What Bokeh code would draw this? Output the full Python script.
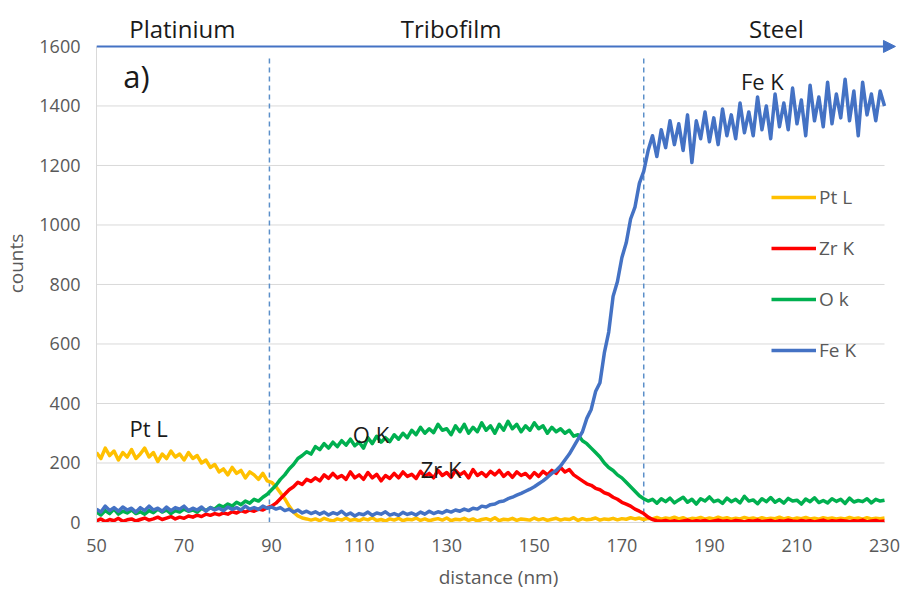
from bokeh.plotting import figure
from bokeh.models import (Range1d, FixedTicker, Label, Arrow, NormalHead, Legend, LegendItem,
                          ColumnDataSource)
from bokeh.embed import file_html
from bokeh.resources import INLINE

# ---------------- data ----------------
distance = list(range(50, 231))  # nm, 1 nm steps

pt_l = [235, 215, 250, 225, 240, 210, 235, 220, 245, 215,
        230, 250, 220, 235, 205, 230, 215, 240, 220, 230,
        210, 235, 215, 225, 200, 210, 185, 195, 170, 180,
        160, 185, 165, 175, 150, 170, 160, 145, 165, 140,
        135, 120, 100, 80, 55, 35, 22, 15, 12, 8,
        12, 6, 14, 9, 5, 12, 8, 15, 7, 11,
        6, 13, 9, 16, 7, 10, 5, 12, 8, 14,
        6, 11, 9, 15, 7, 12, 6, 10, 13, 8,
        15, 6, 11, 9, 14, 7, 12, 5, 10, 13,
        8, 16, 6, 11, 9, 14, 7, 12, 10, 8,
        15, 9, 13, 7, 11, 14, 8, 12, 10, 16,
        7, 13, 9, 11, 15, 8, 12, 10, 14, 9,
        13, 11, 16, 12, 15, 10, 14, 12, 17, 11,
        15, 13, 18, 12, 16, 10, 14, 13, 17, 11,
        15, 12, 18, 13, 16, 11, 14, 12, 17, 13,
        15, 11, 16, 12, 14, 13, 18, 12, 16, 11,
        15, 13, 17, 12, 14, 11, 16, 13, 15, 12,
        14, 12, 17, 13, 15, 11, 16, 12, 14, 13,
        15]

zr_k = [5, 12, 3, 10, 6, 14, 4, 9, 12, 5,
        10, 15, 8, 12, 18, 10, 15, 20, 12, 18,
        14, 22, 18, 25, 20, 28, 24, 30, 26, 32,
        28, 36, 32, 40, 35, 42, 38, 45, 42, 50,
        55, 65, 80, 95, 110, 120, 135, 128, 145, 138,
        150, 140, 160, 148, 165, 150, 158, 145, 170, 150,
        160, 145, 168, 150, 162, 140, 158, 148, 165, 150,
        170, 155, 162, 148, 172, 155, 165, 150, 175, 158,
        168, 152, 175, 160, 170, 150, 178, 158, 168, 155,
        172, 160, 175, 155, 168, 152, 170, 158, 165, 150,
        168, 155, 172, 160, 175, 165, 185, 170, 178, 160,
        150, 140, 130, 125, 115, 110, 100, 95, 85, 78,
        68, 62, 55, 45, 38, 30, 18, 10, 6, 4,
        7, 3, 6, 2, 5, 8, 3, 6, 4, 7,
        2, 5, 8, 4, 6, 3, 7, 5, 2, 6,
        4, 8, 3, 5, 7, 2, 6, 4, 8, 5,
        3, 7, 4, 6, 2, 5, 8, 3, 6, 4,
        7, 5, 3, 6, 4, 8, 2, 5, 7, 3,
        5]

o_k = [35, 25, 40, 30, 45, 28, 38, 32, 42, 30,
       36, 28, 40, 33, 45, 35, 42, 30, 40, 35,
       45, 38, 42, 35, 48, 40, 50, 45, 58, 52,
       62, 55, 68, 60, 72, 65, 78, 72, 85, 95,
       110, 125, 145, 160, 180, 195, 215, 225, 238, 230,
       255, 245, 265, 250, 270, 255, 275, 260, 280, 258,
       270, 250, 285, 265, 290, 270, 285, 272, 295, 280,
       300, 285, 310, 295, 320, 300, 315, 302, 330, 310,
       315, 295, 325, 305, 330, 300, 320, 305, 335, 310,
       325, 300, 330, 310, 340, 315, 330, 305, 325, 310,
       335, 315, 325, 300, 320, 305, 315, 300, 310, 290,
       295, 275, 265, 250, 235, 220, 200, 185, 175, 160,
       150, 135, 120, 105, 90, 80, 72, 78, 65, 80,
       70, 82, 66, 76, 85, 68, 78, 62, 80, 72,
       86, 70, 75, 64, 82, 70, 78, 66, 88, 72,
       76, 63, 80, 70, 84, 68, 77, 65, 81, 72,
       75, 62, 79, 70, 83, 67, 74, 66, 80, 71,
       78, 64, 82, 69, 74, 70, 80, 66, 78, 72,
       75]

fe_k = [45, 35, 55, 40, 50, 38, 52, 42, 48, 35,
        50, 40, 55, 42, 48, 38, 52, 40, 50, 45,
        55, 40, 48, 42, 52, 38, 50, 42, 48, 40,
        52, 44, 50, 42, 55, 45, 50, 44, 55, 48,
        52, 45, 50, 40, 45, 35, 42, 32, 38, 30,
        36, 28, 35, 25, 33, 28, 38, 25, 32, 22,
        30, 26, 35, 24, 32, 28, 36, 25, 30, 24,
        34, 27, 32, 25, 35, 28, 38, 30, 36, 32,
        40, 35, 42, 38, 45, 40, 48, 45, 55, 52,
        60, 62, 70, 72, 80, 85, 92, 98, 105, 112,
        120, 130, 140, 152, 165, 175, 190, 210, 230, 255,
        280, 305, 350, 380, 440, 470, 570, 640, 760, 810,
        890, 940, 1020, 1060, 1140, 1180, 1250, 1300, 1230, 1320,
        1260, 1350, 1270, 1340, 1250, 1370, 1210, 1350, 1290, 1380,
        1280, 1360, 1270, 1390, 1300, 1370, 1290, 1410, 1310, 1380,
        1300, 1430, 1320, 1400, 1290, 1440, 1330, 1410, 1320, 1460,
        1340, 1420, 1300, 1470, 1350, 1430, 1330, 1480, 1340, 1440,
        1360, 1490, 1350, 1450, 1300, 1480, 1370, 1440, 1350, 1450,
        1400]

series_names = ["Pt L", "Zr K", "O k", "Fe K"]
series_values = [pt_l, zr_k, o_k, fe_k]
series_colors = ["#FFC000", "#FF0000", "#00B050", "#4472C4"]

y_ticks = [0, 200, 400, 600, 800, 1000, 1200, 1400, 1600]
x_ticks = [50, 70, 90, 110, 130, 150, 170, 190, 210, 230]
layer_bounds = [89.5, 175.0]
zone_names = ["Platinium", "Tribofilm", "Steel"]
zone_centers = [69.6, 131.0, 205.3]

peak_labels = ["Pt L", "O K", "Zr K", "Fe K"]
peak_x = [61.9, 112.7, 128.7, 202.1]
peak_y = [319, 299, 181, 1485]

FONT = "Open Sans"
GREY = "#595959"
X0, X1 = x_ticks[0], x_ticks[-1]
Y0, Y1 = y_ticks[0], y_ticks[-1]

p = figure(width=905, height=595, output_backend="svg", toolbar_location=None,
           x_range=Range1d(X0, 233.65), y_range=Range1d(Y0, 1741),
           min_border_left=95, min_border_right=5, min_border_top=4, min_border_bottom=73)
p.outline_line_color = None
p.background_fill_color = "white"
p.border_fill_color = "white"

# grid (drawn only over the 50..230 span)
p.xgrid.visible = False
p.ygrid.visible = False
grid_src = ColumnDataSource(dict(y=y_ticks[1:-1], x0=[X0] * (len(y_ticks) - 2), x1=[X1] * (len(y_ticks) - 2)))
p.segment(x0="x0", y0="y", x1="x1", y1="y", source=grid_src, line_color="#D9D9D9", line_width=1)

# axes
p.xaxis.ticker = FixedTicker(ticks=x_ticks)
p.yaxis.ticker = FixedTicker(ticks=y_ticks)
p.xaxis.bounds = (X0, X1)
p.yaxis.bounds = (Y0, Y1)
for ax in (p.xaxis[0], p.yaxis[0]):
    ax.major_tick_line_color = None
    ax.minor_tick_line_color = None
    ax.major_tick_out = 0
    ax.major_tick_in = 0
    ax.minor_tick_out = 0
    ax.minor_tick_in = 0
    ax.axis_line_color = "#D9D9D9"
    ax.major_label_text_font = FONT
    ax.major_label_text_font_size = "18px"
    ax.major_label_text_color = GREY
    ax.axis_label_text_font = FONT
    ax.axis_label_text_font_size = "19px"
    ax.axis_label_text_color = GREY
    ax.axis_label_text_font_style = "normal"
p.xaxis.axis_label = "distance (nm)"
p.yaxis.axis_label = "counts"
p.xaxis.major_label_standoff = 16
p.xaxis.axis_label_standoff = 9
p.yaxis.major_label_standoff = 16
p.yaxis.axis_label_standoff = 7

# dashed layer boundaries
src_b = ColumnDataSource(dict(x=layer_bounds, y0=[0] * len(layer_bounds), y1=[1570] * len(layer_bounds)))
p.segment(x0="x", y0="y0", x1="x", y1="y1", source=src_b, line_color="#5B8FC9",
          line_dash="5 4", line_width=1.5)

# series
renderers = []
for name, vals, col in zip(series_names, series_values, series_colors):
    r = p.line(distance, vals, line_color=col, line_width=3.5, line_join="round")
    renderers.append(r)

# legend
legend = Legend(items=[LegendItem(label=n, renderers=[r]) for n, r in zip(series_names, renderers)],
                location=(675, 159), orientation="vertical", padding=0, margin=0, spacing=25,
                glyph_width=45, glyph_height=20, label_height=20, label_standoff=3,
                label_text_font=FONT, label_text_font_size="19px", label_text_color=GREY,
                border_line_alpha=0, background_fill_alpha=0)
p.add_layout(legend)

# top arrow (depth axis)
p.add_layout(Arrow(x_start=X0, y_start=Y1, x_end=232.5, y_end=Y1, line_color="#4472C4", line_width=2,
                   end=NormalHead(size=12, fill_color="#4472C4", line_color="#4472C4")))

# zone names
for name, xc in zip(zone_names, zone_centers):
    p.add_layout(Label(x=xc, y=1662, text=name, text_align="center", text_baseline="middle",
                       text_font=FONT, text_font_size="24px", text_color="#1a1a1a"))

# panel label
p.add_layout(Label(x=59.1, y=1502, text="a)", text_align="center", text_baseline="middle",
                   text_font=FONT, text_font_size="31px", text_color="#1a1a1a"))

# peak labels
for t, xx, yy in zip(peak_labels, peak_x, peak_y):
    p.add_layout(Label(x=xx, y=yy, text=t, text_align="center", text_baseline="middle",
                       text_font=FONT, text_font_size="22px", text_color="#1a1a1a"))

open("out.html", "w").write(file_html(p, INLINE))
